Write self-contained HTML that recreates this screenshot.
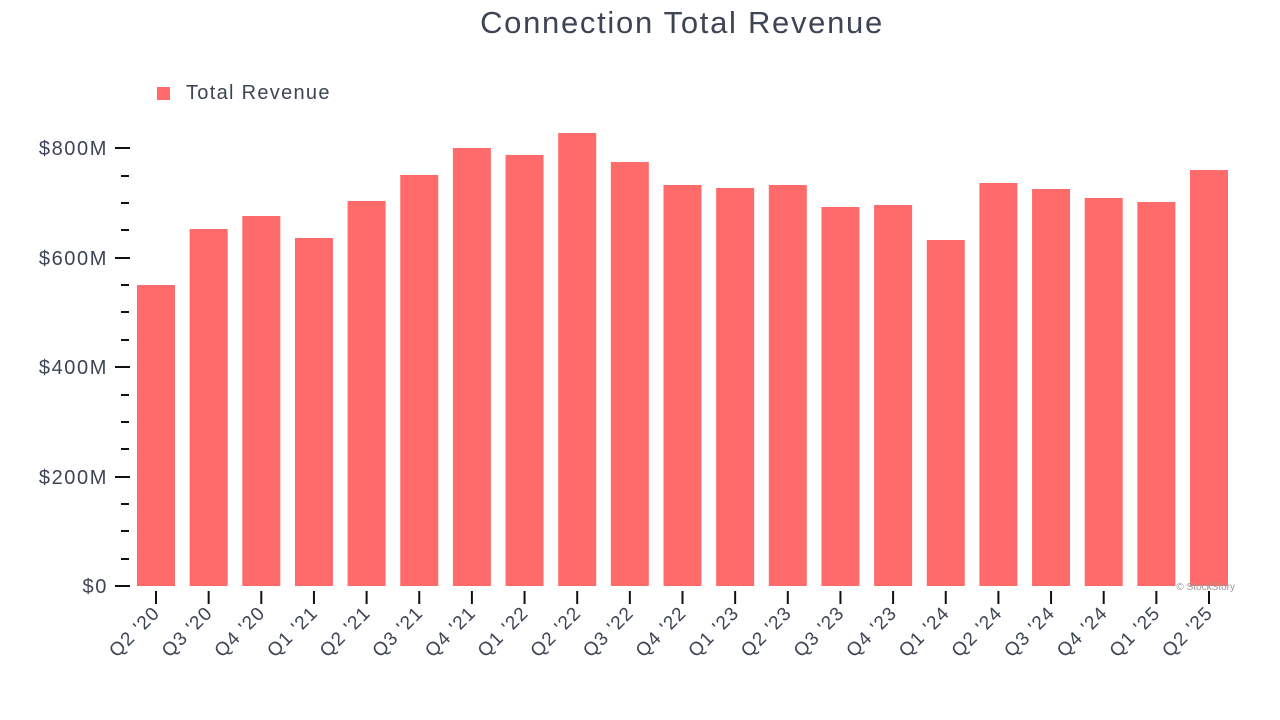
<!DOCTYPE html>
<html><head><style>body{margin:0;background:#fff}svg{display:block}text{font-family:"Liberation Sans",Arial,sans-serif;fill:#3d4455}</style></head>
<body>
<svg width="1280" height="720" viewBox="0 0 1280 720">
<text x="682" y="33" font-size="31" letter-spacing="1.7" text-anchor="middle">Connection Total Revenue</text>
<rect x="157" y="87" width="13" height="13" fill="#ff6b6b"/>
<text x="186" y="99" font-size="20" letter-spacing="1.3">Total Revenue</text>
<g font-size="20" letter-spacing="1.6" text-anchor="end">
<text x="108" y="155">$800M</text><text x="108" y="265">$600M</text><text x="108" y="374">$400M</text><text x="108" y="484">$200M</text><text x="108" y="593">$0</text>
</g>
<g stroke="#111" stroke-width="2">
<line x1="115" y1="148" x2="130" y2="148"/><line x1="115" y1="258" x2="130" y2="258"/><line x1="115" y1="367" x2="130" y2="367"/><line x1="115" y1="477" x2="130" y2="477"/><line x1="115" y1="586" x2="130" y2="586"/>
<line x1="121" y1="176" x2="129" y2="176"/><line x1="121" y1="203" x2="129" y2="203"/><line x1="121" y1="230" x2="129" y2="230"/>
<line x1="121" y1="285" x2="129" y2="285"/><line x1="121" y1="312" x2="129" y2="312"/><line x1="121" y1="340" x2="129" y2="340"/>
<line x1="121" y1="395" x2="129" y2="395"/><line x1="121" y1="422" x2="129" y2="422"/><line x1="121" y1="449" x2="129" y2="449"/>
<line x1="121" y1="504" x2="129" y2="504"/><line x1="121" y1="531" x2="129" y2="531"/><line x1="121" y1="559" x2="129" y2="559"/>
</g>
<g id="bars" fill="#ff6b6b"></g>
<g id="xt" stroke="#111" stroke-width="2"></g>
<g id="xl" font-size="19" letter-spacing="1.2" text-anchor="end"></g>
<text x="1235" y="590" font-size="10" text-anchor="end" style="fill:#999">© StockStory</text>
<script>
var tops=[285,229,216,238,201,175,148,155,133,162,185,188,185,207,205,240,183,189,198,202,170];
var labs=["Q2 '20","Q3 '20","Q4 '20","Q1 '21","Q2 '21","Q3 '21","Q4 '21","Q1 '22","Q2 '22","Q3 '22","Q4 '22","Q1 '23","Q2 '23","Q3 '23","Q4 '23","Q1 '24","Q2 '24","Q3 '24","Q4 '24","Q1 '25","Q2 '25"];
var ns="http://www.w3.org/2000/svg",b=document.getElementById("bars"),t=document.getElementById("xt"),l=document.getElementById("xl");
tops.forEach(function(y,i){var x=137+i*52.65,c=x+19;
var r=document.createElementNS(ns,"rect");r.setAttribute("x",x);r.setAttribute("y",y);r.setAttribute("width",38);r.setAttribute("height",586-y);b.appendChild(r);
var k=document.createElementNS(ns,"line");k.setAttribute("x1",c);k.setAttribute("x2",c);k.setAttribute("y1",591);k.setAttribute("y2",604);t.appendChild(k);
var s=document.createElementNS(ns,"text");s.setAttribute("transform","translate("+(c+5)+",614) rotate(-45)");s.textContent=labs[i];l.appendChild(s);});
</script>
</svg>
</body></html>
